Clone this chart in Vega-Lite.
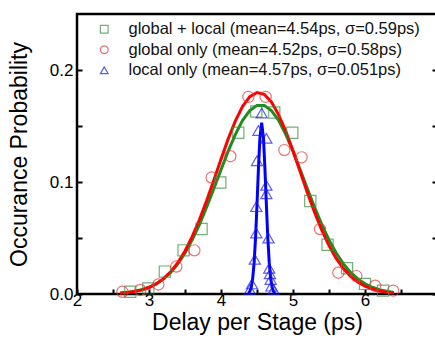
{
  "$schema": "https://vega.github.io/schema/vega-lite/v6.json",
  "width": 360,
  "height": 280,
  "autosize": {"type": "none"},
  "padding": {"left": 77, "top": 14, "right": 0, "bottom": 44},
  "background": "white",
  "config": {
    "font": "Liberation Sans",
    "view": {"stroke": "black", "strokeWidth": 2.5},
    "axis": {
      "domain": false,
      "grid": false,
      "tickColor": "black",
      "tickWidth": 2,
      "labelColor": "black",
      "labelFont": "Liberation Sans",
      "labelFontSize": 17,
      "titleFont": "Liberation Sans",
      "titleFontSize": 23,
      "titleFontWeight": "normal",
      "titleColor": "black"
    },
    "legend": {
      "orient": "none",
      "legendX": 19,
      "legendY": 7,
      "padding": 0,
      "symbolSize": 60,
      "symbolStrokeWidth": 1.2,
      "labelFontSize": 16.5,
      "labelFont": "Liberation Sans",
      "labelColor": "#111111",
      "labelOffset": 16,
      "labelLimit": 400,
      "rowPadding": 3.5
    }
  },
  "datasets": {
    "points": [
      {"k": "a", "x": 2.74, "y": 0.002}, {"k": "a", "x": 2.99, "y": 0.005}, {"k": "a", "x": 3.22, "y": 0.020},
      {"k": "a", "x": 3.48, "y": 0.039}, {"k": "a", "x": 3.73, "y": 0.058}, {"k": "a", "x": 3.99, "y": 0.0995},
      {"k": "a", "x": 4.24, "y": 0.144}, {"k": "a", "x": 4.49, "y": 0.163}, {"k": "a", "x": 4.74, "y": 0.162},
      {"k": "a", "x": 4.99, "y": 0.144}, {"k": "a", "x": 5.24, "y": 0.083}, {"k": "a", "x": 5.48, "y": 0.044},
      {"k": "a", "x": 5.75, "y": 0.023}, {"k": "a", "x": 6.00, "y": 0.009}, {"k": "a", "x": 6.25, "y": 0.003},
      {"k": "b", "x": 2.63, "y": 0.002}, {"k": "b", "x": 2.88, "y": 0.0036}, {"k": "b", "x": 3.13, "y": 0.0085},
      {"k": "b", "x": 3.38, "y": 0.0245}, {"k": "b", "x": 3.63, "y": 0.039}, {"k": "b", "x": 3.87, "y": 0.104},
      {"k": "b", "x": 4.13, "y": 0.123}, {"k": "b", "x": 4.38, "y": 0.176}, {"k": "b", "x": 4.62, "y": 0.176},
      {"k": "b", "x": 4.88, "y": 0.1285}, {"k": "b", "x": 5.12, "y": 0.122}, {"k": "b", "x": 5.375, "y": 0.058},
      {"k": "b", "x": 5.63, "y": 0.019}, {"k": "b", "x": 5.88, "y": 0.016}, {"k": "b", "x": 6.14, "y": 0.0074},
      {"k": "b", "x": 6.39, "y": 0.003},
      {"k": "c", "x": 4.40, "y": 0.004}, {"k": "c", "x": 4.43, "y": 0.009}, {"k": "c", "x": 4.47, "y": 0.031},
      {"k": "c", "x": 4.49, "y": 0.0545}, {"k": "c", "x": 4.49, "y": 0.078}, {"k": "c", "x": 4.50, "y": 0.119},
      {"k": "c", "x": 4.52, "y": 0.146}, {"k": "c", "x": 4.565, "y": 0.1615}, {"k": "c", "x": 4.63, "y": 0.139},
      {"k": "c", "x": 4.63, "y": 0.097}, {"k": "c", "x": 4.63, "y": 0.0895}, {"k": "c", "x": 4.66, "y": 0.050},
      {"k": "c", "x": 4.67, "y": 0.023}, {"k": "c", "x": 4.68, "y": 0.018}, {"k": "c", "x": 4.69, "y": 0.013},
      {"k": "c", "x": 4.70, "y": 0.007}, {"k": "c", "x": 4.73, "y": 0.004}
    ],
    "curves": [
      {"k": "fa", "x": 2.6, "y": 0.00086}, {"k": "fa", "x": 2.7, "y": 0.00146}, {"k": "fa", "x": 2.8, "y": 0.0024},
      {"k": "fa", "x": 2.9, "y": 0.00385}, {"k": "fa", "x": 3.0, "y": 0.006}, {"k": "fa", "x": 3.1, "y": 0.00911},
      {"k": "fa", "x": 3.2, "y": 0.01345}, {"k": "fa", "x": 3.3, "y": 0.0193}, {"k": "fa", "x": 3.4, "y": 0.0269},
      {"k": "fa", "x": 3.5, "y": 0.0366}, {"k": "fa", "x": 3.6, "y": 0.0483}, {"k": "fa", "x": 3.7, "y": 0.062},
      {"k": "fa", "x": 3.8, "y": 0.0774}, {"k": "fa", "x": 3.9, "y": 0.094}, {"k": "fa", "x": 4.0, "y": 0.111},
      {"k": "fa", "x": 4.1, "y": 0.1276}, {"k": "fa", "x": 4.2, "y": 0.1426}, {"k": "fa", "x": 4.3, "y": 0.155},
      {"k": "fa", "x": 4.4, "y": 0.1638}, {"k": "fa", "x": 4.5, "y": 0.1684}, {"k": "fa", "x": 4.6, "y": 0.1684},
      {"k": "fa", "x": 4.7, "y": 0.1638}, {"k": "fa", "x": 4.8, "y": 0.155}, {"k": "fa", "x": 4.9, "y": 0.1426},
      {"k": "fa", "x": 5.0, "y": 0.1276}, {"k": "fa", "x": 5.1, "y": 0.111}, {"k": "fa", "x": 5.2, "y": 0.094},
      {"k": "fa", "x": 5.3, "y": 0.0774}, {"k": "fa", "x": 5.4, "y": 0.062}, {"k": "fa", "x": 5.5, "y": 0.0483},
      {"k": "fa", "x": 5.6, "y": 0.0366}, {"k": "fa", "x": 5.7, "y": 0.0269}, {"k": "fa", "x": 5.8, "y": 0.0193},
      {"k": "fa", "x": 5.9, "y": 0.01345}, {"k": "fa", "x": 6.0, "y": 0.00911}, {"k": "fa", "x": 6.1, "y": 0.006},
      {"k": "fa", "x": 6.2, "y": 0.00385}, {"k": "fa", "x": 6.3, "y": 0.0024}, {"k": "fa", "x": 6.4, "y": 0.00146},
      {"k": "fb", "x": 2.6, "y": 0.00075}, {"k": "fb", "x": 2.7, "y": 0.00131}, {"k": "fb", "x": 2.8, "y": 0.00222},
      {"k": "fb", "x": 2.9, "y": 0.00364}, {"k": "fb", "x": 3.0, "y": 0.00581}, {"k": "fb", "x": 3.1, "y": 0.00899},
      {"k": "fb", "x": 3.2, "y": 0.0135}, {"k": "fb", "x": 3.3, "y": 0.0197}, {"k": "fb", "x": 3.4, "y": 0.0279},
      {"k": "fb", "x": 3.5, "y": 0.0384}, {"k": "fb", "x": 3.6, "y": 0.0512}, {"k": "fb", "x": 3.7, "y": 0.0663},
      {"k": "fb", "x": 3.8, "y": 0.0833}, {"k": "fb", "x": 3.9, "y": 0.1016}, {"k": "fb", "x": 4.0, "y": 0.1204},
      {"k": "fb", "x": 4.1, "y": 0.1385}, {"k": "fb", "x": 4.2, "y": 0.1546}, {"k": "fb", "x": 4.3, "y": 0.1675},
      {"k": "fb", "x": 4.4, "y": 0.1762}, {"k": "fb", "x": 4.5, "y": 0.1799}, {"k": "fb", "x": 4.6, "y": 0.1783},
      {"k": "fb", "x": 4.7, "y": 0.1715}, {"k": "fb", "x": 4.8, "y": 0.1602}, {"k": "fb", "x": 4.9, "y": 0.1452},
      {"k": "fb", "x": 5.0, "y": 0.1278}, {"k": "fb", "x": 5.1, "y": 0.1092}, {"k": "fb", "x": 5.2, "y": 0.0905},
      {"k": "fb", "x": 5.3, "y": 0.0729}, {"k": "fb", "x": 5.4, "y": 0.0569}, {"k": "fb", "x": 5.5, "y": 0.0432},
      {"k": "fb", "x": 5.6, "y": 0.0318}, {"k": "fb", "x": 5.7, "y": 0.0227}, {"k": "fb", "x": 5.8, "y": 0.0158},
      {"k": "fb", "x": 5.9, "y": 0.0106}, {"k": "fb", "x": 6.0, "y": 0.00694}, {"k": "fb", "x": 6.1, "y": 0.00441},
      {"k": "fb", "x": 6.2, "y": 0.00271}, {"k": "fb", "x": 6.3, "y": 0.00162}, {"k": "fb", "x": 6.4, "y": 0.00094},
      {"k": "fc", "x": 4.38, "y": 0.0008}, {"k": "fc", "x": 4.40, "y": 0.0023}, {"k": "fc", "x": 4.42, "y": 0.006},
      {"k": "fc", "x": 4.44, "y": 0.0138}, {"k": "fc", "x": 4.46, "y": 0.028}, {"k": "fc", "x": 4.48, "y": 0.0503},
      {"k": "fc", "x": 4.50, "y": 0.0799}, {"k": "fc", "x": 4.52, "y": 0.112}, {"k": "fc", "x": 4.54, "y": 0.139},
      {"k": "fc", "x": 4.565, "y": 0.153}, {"k": "fc", "x": 4.59, "y": 0.139}, {"k": "fc", "x": 4.61, "y": 0.112},
      {"k": "fc", "x": 4.63, "y": 0.0799}, {"k": "fc", "x": 4.65, "y": 0.0503}, {"k": "fc", "x": 4.67, "y": 0.028},
      {"k": "fc", "x": 4.69, "y": 0.0138}, {"k": "fc", "x": 4.71, "y": 0.006}, {"k": "fc", "x": 4.73, "y": 0.0023},
      {"k": "fc", "x": 4.75, "y": 0.0008}
    ]
  },
  "encoding": {
    "x": {
      "field": "x",
      "type": "quantitative",
      "scale": {"domain": [2, 7], "nice": false, "zero": false},
      "axis": {
        "title": "Delay per Stage (ps)",
        "values": [2, 2.5, 3, 3.5, 4, 4.5, 5, 5.5, 6, 6.5, 7],
        "labelExpr": "datum.value % 1 ? '' : format(datum.value, 'd')",
        "tickSize": -5,
        "labelPadding": 3,
        "labelFlush": false,
        "labelOverlap": false,
        "titlePadding": 3
      }
    }
  },
  "resolve": {"axis": {"y": "independent"}},
  "layer": [
    {
      "data": {"name": "curves"},
      "mark": {"type": "line", "strokeWidth": 3},
      "encoding": {
        "y": {
          "field": "y",
          "type": "quantitative",
          "scale": {"domain": [0, 0.25], "nice": false},
          "axis": {
            "title": "Occurance Probability",
            "orient": "left",
            "values": [0, 0.05, 0.1, 0.15, 0.2],
            "labelExpr": "(datum.value * 20) % 2 > 0.5 ? '' : format(datum.value, '.1f')",
            "tickSize": -5,
            "labelPadding": 9,
            "labelFlush": false,
            "labelOverlap": false,
            "titlePadding": 18
          }
        },
        "stroke": {
          "field": "k",
          "type": "nominal",
          "scale": {"domain": ["fa", "fb", "fc"], "range": ["#1e8c1e", "#ff0000", "#0000ff"]},
          "legend": null
        }
      }
    },
    {
      "data": {"name": "points"},
      "mark": {"type": "point", "filled": false, "strokeWidth": 1.2, "size": 125},
      "encoding": {
        "y": {
          "field": "y",
          "type": "quantitative",
          "scale": {"domain": [0, 0.25], "nice": false},
          "axis": {
            "title": null,
            "orient": "right",
            "values": [0, 0.05, 0.1, 0.15, 0.2],
            "labels": false,
            "tickSize": -5
          }
        },
        "color": {
          "field": "k",
          "type": "nominal",
          "scale": {"domain": ["a", "b", "c"], "range": ["#3a8c3a", "#e03a3a", "#1a1ae0"]},
          "legend": {
            "title": null,
            "labelExpr": "datum.label == 'a' ? 'global + local (mean=4.54ps, σ=0.59ps)' : datum.label == 'b' ? 'global only (mean=4.52ps, σ=0.58ps)' : 'local only (mean=4.57ps, σ=0.051ps)'"
          }
        },
        "shape": {
          "field": "k",
          "type": "nominal",
          "scale": {"domain": ["a", "b", "c"], "range": ["square", "circle", "triangle-up"]},
          "legend": {
            "title": null,
            "labelExpr": "datum.label == 'a' ? 'global + local (mean=4.54ps, σ=0.59ps)' : datum.label == 'b' ? 'global only (mean=4.52ps, σ=0.58ps)' : 'local only (mean=4.57ps, σ=0.051ps)'"
          }
        }
      }
    }
  ]
}
